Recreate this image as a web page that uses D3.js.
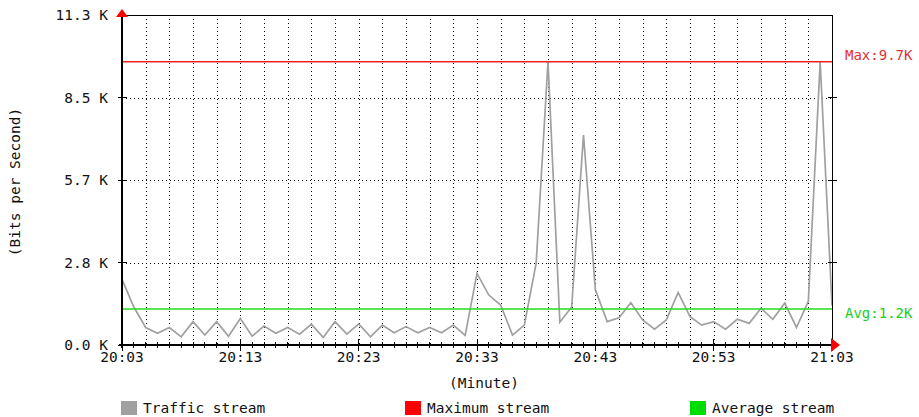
<!DOCTYPE html>
<html>
<head>
<meta charset="utf-8">
<script src="https://cdn.jsdelivr.net/npm/d3@7"></script>
<style>
  body { margin: 0; background: #fff; }
  svg { display: block; font-family: "DejaVu Sans Mono", monospace; }
</style>
</head>
<body>
<svg width="919" height="417"></svg>
<script>
// data, one value per minute (K bits/s)
var startTime = "20:03";
var endTime = "21:03";
var traffic = [
  2.25, 1.3, 0.6, 0.4, 0.6, 0.28, 0.8, 0.34, 0.8, 0.3,
  0.91, 0.3, 0.65, 0.4, 0.6, 0.37, 0.71, 0.26, 0.8, 0.37,
  0.72, 0.28, 0.68, 0.42, 0.63, 0.42, 0.6, 0.42, 0.68, 0.33,
  2.45, 1.71, 1.37, 0.34, 0.68, 2.8, 9.7, 0.78, 1.3, 7.19,
  1.9, 0.8, 0.93, 1.45, 0.86, 0.54, 0.86, 1.8, 0.97, 0.68,
  0.8, 0.54, 0.88, 0.74, 1.26, 0.88, 1.43, 0.6, 1.5, 9.7,
  1.35
];
var maxValue = 9.7;
var avgValue = 1.23;
var yTicks = [0, 2.825, 5.65, 8.475, 11.3];
var yTickLabels = ["0.0 K", "2.8 K", "5.7 K", "8.5 K", "11.3 K"];
var legendNames = ["Traffic stream", "Maximum stream", "Average stream"];
var legendColors = ["#a0a0a0", "#ff0000", "#00dd00"];

var svg = d3.select("svg");
var pLeft = 122, pRight = 832, pTop = 15, pBottom = 345;

var parse = d3.timeParse("%H:%M");
var t0 = parse(startTime), t1 = parse(endTime);

var x = d3.scaleTime().domain([t0, t1]).range([pLeft, pRight]);
var y = d3.scaleLinear().domain([0, 11.3]).range([pBottom, pTop]);

var points = traffic.map(function(v, i) { return {t: d3.timeMinute.offset(t0, i), v: v}; });

// dotted grid
var grid = svg.append("g").attr("stroke", "#000").attr("stroke-dasharray", "1,3").attr("shape-rendering", "crispEdges");
var gridTimes = d3.timeMinute.range(d3.timeMinute.offset(t0, 2), t1, 2);
grid.selectAll(".vg").data(gridTimes).enter().append("line")
  .attr("x1", function(d) { return Math.round(x(d)) + 0.5; })
  .attr("x2", function(d) { return Math.round(x(d)) + 0.5; })
  .attr("y1", pTop).attr("y2", pBottom);
grid.selectAll(".hg").data(yTicks.slice(1, -1)).enter().append("line")
  .attr("x1", pLeft).attr("x2", pRight)
  .attr("y1", function(d) { return Math.round(y(d)) + 0.5; })
  .attr("y2", function(d) { return Math.round(y(d)) + 0.5; });

// traffic line
svg.append("path").datum(points)
  .attr("fill", "none").attr("stroke", "#a0a0a0").attr("stroke-width", 1.7)
  .attr("d", d3.line().x(function(d) { return x(d.t); }).y(function(d) { return y(d.v); }));

// max / avg lines
svg.append("line").attr("x1", pLeft).attr("x2", pRight)
  .attr("y1", y(maxValue)).attr("y2", y(maxValue))
  .attr("stroke", "#f02020").attr("stroke-width", 1.5);
svg.append("line").attr("x1", pLeft).attr("x2", pRight)
  .attr("y1", y(avgValue)).attr("y2", y(avgValue))
  .attr("stroke", "#22dd22").attr("stroke-width", 1.5);

svg.append("text").attr("x", 845).attr("y", y(maxValue) - 2)
  .attr("fill", "#e03030").attr("font-size", 14)
  .text("Max:" + maxValue.toFixed(1) + "K");
svg.append("text").attr("x", 845).attr("y", y(avgValue) + 9)
  .attr("fill", "#22cc22").attr("font-size", 14)
  .text("Avg:" + avgValue.toFixed(1) + "K");

// frame
var frame = svg.append("g").attr("stroke", "#000").attr("shape-rendering", "crispEdges");
frame.append("line").attr("x1", pLeft).attr("x2", pRight).attr("y1", pTop).attr("y2", pTop);
frame.append("line").attr("x1", pRight).attr("x2", pRight).attr("y1", pTop).attr("y2", pBottom);
frame.append("line").attr("x1", pLeft).attr("x2", pLeft).attr("y1", pTop - 4).attr("y2", pBottom + 3).attr("stroke-width", 1.5);
frame.append("line").attr("x1", pLeft - 3).attr("x2", pRight + 4).attr("y1", pBottom).attr("y2", pBottom).attr("stroke-width", 1.5);

// y ticks (both sides)
frame.selectAll(".yt").data(yTicks.slice(0, -1)).enter().append("line")
  .attr("x1", pLeft - 4).attr("x2", pLeft + 5)
  .attr("y1", function(d) { return y(d); }).attr("y2", function(d) { return y(d); });
frame.selectAll(".yr").data(yTicks.slice(1, -1)).enter().append("line")
  .attr("x1", pRight - 4).attr("x2", pRight + 5)
  .attr("y1", function(d) { return y(d); }).attr("y2", function(d) { return y(d); });

// x ticks
var minutes = d3.timeMinute.range(t0, d3.timeMinute.offset(t1, 1));
frame.selectAll(".xt").data(minutes).enter().append("line")
  .attr("x1", function(d) { return x(d); }).attr("x2", function(d) { return x(d); })
  .attr("y1", function(d) { return d.getMinutes() % 10 === 3 ? pBottom - 6 : pBottom - 3; })
  .attr("y2", function(d) { return d.getMinutes() % 10 === 3 ? pBottom + 6 : pBottom + 3; });

// arrows
svg.append("path").attr("fill", "#ff0000")
  .attr("d", "M" + pLeft + "," + (pTop - 6) + "L" + (pLeft + 6) + "," + (pTop + 2) + "L" + (pLeft - 6) + "," + (pTop + 2) + "Z");
svg.append("path").attr("fill", "#ff0000")
  .attr("d", "M" + (pRight + 8) + "," + pBottom + "L" + (pRight - 1) + "," + (pBottom - 7) + "L" + (pRight - 1) + "," + (pBottom + 7) + "Z");

// labels
var lab = svg.append("g").attr("fill", "#111").attr("font-size", 14.5);
lab.selectAll(".yl").data(yTicks).enter().append("text")
  .attr("x", 108).attr("y", function(d) { return y(d) + 5; })
  .attr("text-anchor", "end")
  .text(function(d, i) { return yTickLabels[i]; });

var fmt = d3.timeFormat("%H:%M");
lab.selectAll(".xl").data(d3.timeMinute.range(t0, d3.timeMinute.offset(t1, 1), 10)).enter().append("text")
  .attr("x", function(d) { return x(d); }).attr("y", 362)
  .attr("text-anchor", "middle")
  .text(fmt);

lab.append("text").attr("x", 484).attr("y", 388).attr("text-anchor", "middle").text("(Minute)");
lab.append("text").attr("transform", "translate(20,182) rotate(-90)")
  .attr("text-anchor", "middle").text("(Bits per Second)");

// legend
var legendX = [121, 405, 690];
var lg = svg.selectAll(".lg").data(legendNames).enter().append("g")
  .attr("transform", function(d, i) { return "translate(" + legendX[i] + ",401)"; });
lg.append("rect").attr("width", 16).attr("height", 14)
  .attr("fill", function(d, i) { return legendColors[i]; });
lg.append("text").attr("x", 22).attr("y", 12).attr("font-size", 14.5).attr("fill", "#111").text(function(d) { return d; });
</script>
</body>
</html>
